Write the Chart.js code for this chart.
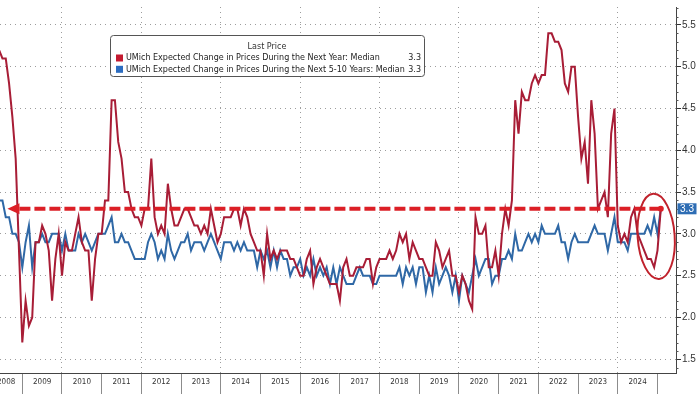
<!DOCTYPE html>
<html><head><meta charset="utf-8">
<style>html,body{margin:0;padding:0;background:#fff;overflow:hidden}canvas{display:block}</style>
<script src="https://cdn.jsdelivr.net/npm/chart.js@4.4.1/dist/chart.umd.min.js"></script>
</head><body>
<canvas id="c" width="700" height="394"></canvas>
<script>
// ---- data ----
const startYear = 2008;
const startMonth = 5; // first observation: May 2008 (monthly)
const years = [2008,2009,2010,2011,2012,2013,2014,2015,2016,2017,2018,2019,2020,2021,2022,2023,2024];
const oneYear = [
 5.2,5.1,5.1,4.8,4.4,3.9,2.8,1.7,
 2.2,1.9,2.0,2.9,2.9,3.1,3.0,2.8,2.2,2.7,3.0,2.5,
 2.9,2.8,2.8,3.0,3.2,2.9,2.8,2.8,2.2,2.7,3.0,3.0,
 3.4,3.4,4.6,4.6,4.1,3.9,3.5,3.5,3.3,3.2,3.2,3.1,
 3.3,3.3,3.9,3.2,3.0,3.1,3.0,3.6,3.3,3.1,3.1,3.2,
 3.3,3.3,3.2,3.1,3.1,3.0,3.1,3.0,3.3,3.1,2.9,3.0,
 3.2,3.2,3.2,3.3,3.3,3.1,3.3,3.2,3.0,2.9,2.8,2.8,
 2.5,3.0,2.7,2.8,2.7,2.8,2.8,2.8,2.7,2.7,2.6,2.5,
 2.5,2.7,2.8,2.4,2.6,2.7,2.6,2.5,2.4,2.4,2.4,2.2,
 2.6,2.7,2.5,2.5,2.6,2.6,2.6,2.7,2.7,2.4,2.6,2.7,
 2.7,2.7,2.8,2.7,2.8,3.0,2.9,3.0,2.7,2.9,2.8,2.7,
 2.7,2.6,2.5,2.5,2.9,2.8,2.6,2.7,2.8,2.5,2.5,2.3,
 2.5,2.4,2.2,2.1,3.2,3.0,3.0,3.1,2.6,2.6,2.8,2.5,
 3.0,3.3,3.1,3.4,4.6,4.2,4.7,4.6,4.6,4.8,4.9,4.8,
 4.9,4.9,5.4,5.4,5.3,5.3,5.2,4.8,4.7,5.0,5.0,4.4,
 3.9,4.1,3.6,4.6,4.2,3.3,3.4,3.5,3.2,4.2,4.5,3.1,
 2.9,3.0,2.9,3.2,3.3,3.0,2.9,2.8,2.7,2.7,2.6,2.8,
 3.3
];
const fiveTenYear = [
 3.4,3.4,3.2,3.2,3.0,3.0,2.9,2.6,
 2.9,3.1,2.6,2.9,2.9,3.0,2.9,2.9,3.0,3.0,3.0,2.8,
 3.0,2.8,2.8,2.8,3.0,2.9,3.0,2.9,2.8,2.9,3.0,3.0,
 3.0,3.1,3.2,2.9,2.9,3.0,2.9,2.9,2.8,2.7,2.7,2.7,
 2.7,2.9,3.0,2.9,2.7,2.8,2.7,3.0,2.8,2.7,2.8,2.9,
 2.9,3.0,2.8,2.9,2.9,2.9,2.8,2.9,3.0,2.9,2.8,2.7,
 2.9,2.9,2.9,2.8,2.9,2.8,2.9,2.8,2.8,2.8,2.6,2.8,
 2.7,2.8,2.6,2.8,2.6,2.8,2.7,2.7,2.5,2.6,2.6,2.7,
 2.5,2.6,2.5,2.7,2.5,2.6,2.5,2.6,2.4,2.6,2.4,2.6,
 2.5,2.4,2.4,2.4,2.5,2.6,2.5,2.5,2.5,2.4,2.4,2.5,
 2.5,2.5,2.5,2.5,2.5,2.6,2.4,2.6,2.5,2.6,2.4,2.6,
 2.6,2.3,2.5,2.3,2.6,2.4,2.5,2.6,2.5,2.3,2.5,2.2,
 2.5,2.4,2.3,2.5,2.7,2.5,2.6,2.7,2.7,2.4,2.5,2.5,
 2.7,2.7,2.8,2.7,3.0,2.8,2.8,2.9,3.0,2.9,3.0,2.9,
 3.1,3.0,3.0,3.0,3.0,3.1,2.9,2.9,2.7,2.9,3.0,2.9,
 2.9,2.9,2.9,3.0,3.1,3.0,3.0,3.0,2.8,3.0,3.2,2.9,
 2.9,2.9,2.8,3.0,3.0,3.0,3.0,3.0,3.1,3.0,3.2,3.0,
 3.3
];
const yTickValues = [1.5,2.0,2.5,3.0,3.5,4.0,4.5,5.0,5.5];
const legendTitle = 'Last Price';
const seriesNames = [
 'UMich Expected Change in Prices During the Next Year: Median',
 'UMich Expected Change in Prices During the Next 5-10 Years: Median'
];
const lastValues = ['3.3','3.3'];
const lastLevel = 3.3;

// ---- helpers ----
const baseOffset = (startYear - 2008) * 12 + (startMonth - 1);
const monthEnd = i => baseOffset + i + 1;           // months since Jan 2008, end of month
const yearStart = yr => (yr - 2008) * 12;
const toPoints = arr => arr.map((v, i) => ({x: monthEnd(i), y: v}));
const lastX = monthEnd(oneYear.length - 1);

const RED = '#a81d36', BLUE = '#2f68a6';
const GRID = '#9d9d9d';
const FAM = '"Liberation Sans Narrow","Arial Narrow","DejaVu Sans Condensed","Liberation Sans",sans-serif';

function fitSize(ctx, text, target, family) {
  ctx.font = '20px ' + family;
  return 20 * target / ctx.measureText(text).width;
}

const deco = {
  id: 'deco',
  afterDatasetsDraw(chart) {
    const {ctx, scales: {x, y}} = chart;
    const yv = y.getPixelForValue(lastLevel);
    const xTip = x.getPixelForValue(7.5);
    const xEnd = x.getPixelForValue(lastX);
    ctx.save();
    ctx.strokeStyle = '#dc1f26';
    ctx.fillStyle = '#dc1f26';
    ctx.lineWidth = 4;
    ctx.setLineDash([11, 4]);
    ctx.beginPath(); ctx.moveTo(xTip + 12, yv); ctx.lineTo(xEnd, yv); ctx.stroke();
    ctx.setLineDash([]);
    ctx.beginPath(); ctx.moveTo(xTip, yv); ctx.lineTo(xTip + 12, yv - 5.5); ctx.lineTo(xTip + 12, yv + 5.5); ctx.closePath(); ctx.fill();
    ctx.beginPath(); ctx.arc(xEnd, yv, 3, 0, Math.PI * 2); ctx.fill();
    // ellipse around the latest readings
    const cM = lastX - 1.4, cV = 2.97;
    const cx = x.getPixelForValue(cM), cy = y.getPixelForValue(cV);
    const rx = Math.abs(x.getPixelForValue(cM + 5.6) - cx);
    const ry = Math.abs(y.getPixelForValue(cV + 0.51) - cy);
    ctx.strokeStyle = '#c0222c';
    ctx.lineWidth = 2;
    ctx.beginPath(); ctx.ellipse(cx, cy, rx, ry, -0.07, 0, Math.PI * 2); ctx.stroke();
    ctx.restore();
  },
  afterDraw(chart) {
    const {ctx, chartArea: ca, scales: {x, y}} = chart;
    ctx.save();
    // minor ticks on y axis
    ctx.strokeStyle = '#555';
    ctx.lineWidth = 1;
    for (let k = 14; k <= 57; k++) {
      if (k % 5 === 0) continue;
      const py = Math.round(y.getPixelForValue(k / 10)) + 0.5;
      ctx.beginPath(); ctx.moveTo(ca.right, py); ctx.lineTo(ca.right + 2.5, py); ctx.stroke();
    }
    // year labels
    const ys = fitSize(ctx, '2009', 18.3, FAM);
    ctx.font = ys.toFixed(2) + 'px ' + FAM;
    ctx.fillStyle = '#333';
    ctx.textBaseline = 'middle';
    ctx.textAlign = 'center';
    years.forEach(yr => {
      const a = x.getPixelForValue(yearStart(yr)), b = x.getPixelForValue(yearStart(yr + 1));
      let cxl = (a + b) / 2;
      const w = ctx.measureText(String(yr)).width;
      cxl = Math.max(cxl, w / 2 - 3);
      ctx.fillText(String(yr), cxl, ca.bottom + 9);
    });
    // last value box
    const yv = y.getPixelForValue(lastLevel);
    ctx.fillStyle = '#2e6db4';
    ctx.fillRect(ca.right + 1.5, yv - 5.5, 19, 11);
    ctx.fillStyle = '#fff';
    ctx.font = '10px "Liberation Sans",Arial,sans-serif';
    ctx.textAlign = 'center';
    ctx.fillText(lastValues[1], ca.right + 11, yv + 0.5);
    // legend box
    const L = 110.5, T = 35.5, W = 314, H = 41;
    ctx.fillStyle = '#fff';
    ctx.strokeStyle = '#555';
    ctx.lineWidth = 1;
    ctx.beginPath(); ctx.roundRect(L, T, W, H, 3); ctx.fill(); ctx.stroke();
    const ls = fitSize(ctx, seriesNames[0], 254, FAM);
    ctx.font = ls.toFixed(2) + 'px ' + FAM;
    ctx.fillStyle = '#333';
    ctx.textAlign = 'center';
    ctx.fillText(legendTitle, 267, T + 11.5);
    const cols = ['#c41a30', '#2b6cc0'];
    [0, 1].forEach(i => {
      const ty = T + 22.5 + i * 11.3;
      ctx.fillStyle = cols[i];
      ctx.fillRect(116, ty - 3.5, 7, 7);
      ctx.fillStyle = '#222';
      ctx.textAlign = 'left';
      ctx.fillText(seriesNames[i], 126, ty);
      ctx.textAlign = 'right';
      ctx.fillText(lastValues[i], 421, ty);
    });
    ctx.restore();
  }
};

new Chart(document.getElementById('c'), {
  type: 'line',
  data: {
    datasets: [
      {label: seriesNames[0], data: toPoints(oneYear), borderColor: RED, borderWidth: 2, pointRadius: 0, tension: 0},
      {label: seriesNames[1], data: toPoints(fiveTenYear), borderColor: BLUE, borderWidth: 2, pointRadius: 0, tension: 0}
    ]
  },
  options: {
    responsive: false, animation: false, devicePixelRatio: 1,
    layout: {padding: 0},
    plugins: {legend: {display: false}, tooltip: {enabled: false}},
    scales: {
      x: {
        type: 'linear', min: 5.26, max: 209.6,
        afterFit: s => { s.height = 21; },
        afterBuildTicks: s => { s.ticks = years.map(yr => ({value: yearStart(yr + 1)})); },
        ticks: {display: false},
        grid: {
          color: c => (c.tick && ((2008 + c.tick.value / 12) % 2 === 0)) ? GRID : 'rgba(0,0,0,0)',
          tickColor: '#8c8c8c', tickLength: 21, drawOnChartArea: true, lineWidth: 1
        },
        border: {display: true, color: '#444', dash: [1, 4]}
      },
      y: {
        position: 'right', min: 1.335, max: 5.715,
        afterFit: s => { s.width = 24; },
        afterBuildTicks: s => { s.ticks = yTickValues.map(v => ({value: v})); },
        ticks: {autoSkip: false, padding: 1, color: '#333', font: {family: '"Liberation Sans",Arial,sans-serif', size: 10}, callback: v => Number(v).toFixed(1)},
        grid: {color: GRID, tickColor: '#333', tickLength: 5, lineWidth: 1},
        border: {display: true, color: '#444', dash: [1, 4]}
      }
    }
  },
  plugins: [deco]
});
</script>
</body></html>
